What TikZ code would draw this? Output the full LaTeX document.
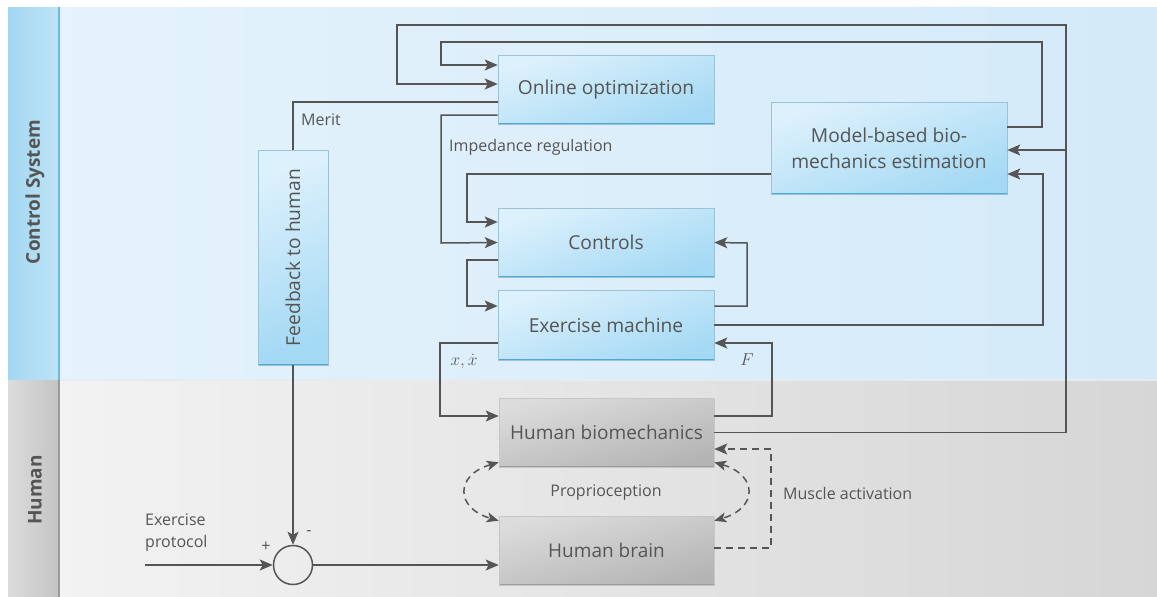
\documentclass[tikz,border=0pt]{standalone}
\usepackage{fontspec}
\setmainfont{Open Sans}
\usetikzlibrary{arrows.meta,shadows}

\definecolor{ink}{HTML}{555555}
\definecolor{laneblueA}{HTML}{E5F3FC}
\definecolor{laneblueB}{HTML}{D4EAF9}
\definecolor{lanegreyA}{HTML}{F4F4F4}
\definecolor{lanegreyB}{HTML}{D6D6D6}
\definecolor{headblueA}{HTML}{A3D7F1}
\definecolor{headblueB}{HTML}{BEE3F6}
\definecolor{headblueEdge}{HTML}{6FB9E0}
\definecolor{headgreyA}{HTML}{C4C4C4}
\definecolor{headgreyB}{HTML}{DCDCDC}
\definecolor{headgreyEdge}{HTML}{9A9A9A}
\definecolor{boxblueA}{HTML}{DDF1FC}
\definecolor{boxblueB}{HTML}{A4D9F4}
\definecolor{boxblueEdge}{HTML}{4EA7D6}
\definecolor{boxblueLine}{HTML}{9CC2D6}
\definecolor{boxgreyA}{HTML}{DCDCDC}
\definecolor{boxgreyB}{HTML}{B4B4B4}
\definecolor{boxgreyEdge}{HTML}{9C9C9C}
\definecolor{boxgreyLine}{HTML}{C6C6C6}

\tikzset{
  every node/.style={text=ink},
  bluebox/.style={draw=boxblueLine, line width=0.6pt,
    top color=boxblueA, bottom color=boxblueB, shading angle=20,
    align=center, font=\fontsize{19.2}{26}\selectfont,
    drop shadow={opacity=0.18, shadow xshift=1.2pt, shadow yshift=-1.2pt},
    path picture={\draw[boxblueEdge, line width=2.4pt]
      (path picture bounding box.south west) -- (path picture bounding box.south east);}},
  greybox/.style={draw=boxgreyLine, line width=0.6pt,
    top color=boxgreyA, bottom color=boxgreyB, shading angle=15,
    align=center, font=\fontsize{19}{26}\selectfont,
    drop shadow={opacity=0.18, shadow xshift=1.2pt, shadow yshift=-1.2pt},
    path picture={\draw[boxgreyEdge, line width=2.4pt]
      (path picture bounding box.south west) -- (path picture bounding box.south east);}},
  wire/.style={draw=ink, line width=1.5pt},
  arr/.style={wire, -{Stealth[length=13pt,width=11pt,inset=3pt]}},
  biarr/.style={wire, {Stealth[length=12pt,width=10pt,inset=3pt]}-{Stealth[length=12pt,width=10pt,inset=3pt]}},
  dash7/.style={dash pattern=on 7pt off 5pt},
  lbl/.style={font=\fontsize{16}{22}\selectfont, inner sep=0pt},
  lanehead/.style={font=\bfseries\fontsize{19}{22}\selectfont, rotate=90, inner sep=0pt}
}

\begin{document}
\begin{tikzpicture}[x=1pt,y=-1pt]
\useasboundingbox (0,0) rectangle (1157,597);
\fill[white] (0,0) rectangle (1157,597);

% swim lanes
\shade[left color=laneblueA, right color=laneblueB] (8,7) rectangle (1157,380);
\shade[left color=lanegreyA, right color=lanegreyB] (8,380) rectangle (1157,597);
\draw[line width=1.5pt, draw=laneblueB!80!black!30] (60,380) -- (1157,380);
\shade[left color=headblueA, right color=headblueB] (8,7) rectangle (58,380);
\draw[headblueEdge, line width=2pt] (59,7) -- (59,380);
\shade[left color=headgreyB, right color=headgreyA] (8,380) rectangle (58,597);
\draw[headgreyEdge, line width=2pt] (59,380) -- (59,597);
\node[lanehead] (lcs) at (35,192) {Control System};
\node[lanehead] (lhu) at (35,490) {Human};

% blocks
\node[bluebox, minimum width=216pt, minimum height=69pt] (OO) at (606,89.5) {Online optimization};
\node[bluebox, minimum width=236pt, minimum height=92pt] (MB) at (889,148) {Model-based bio-\\mechanics estimation};
\node[bluebox, minimum width=216pt, minimum height=69pt] (CT) at (606,242.5) {Controls};
\node[bluebox, minimum width=216pt, minimum height=70pt] (EM) at (606,325) {Exercise machine};
\node[bluebox, minimum width=215pt, minimum height=70pt, rotate=90] (FB) at (293,257.5) {Feedback to human};
\node[greybox, minimum width=215pt, minimum height=69pt] (HB) at (606.5,432.5) {Human biomechanics};
\node[greybox, minimum width=215pt, minimum height=69pt] (BR) at (606.5,550.5) {Human brain};
\node[draw=ink, line width=1.5pt, circle, minimum size=39pt, inner sep=0pt] (S) at (293,565) {};
\coordinate (EP) at (145,565);
\coordinate (J1) at (1066,150);

% control-system loops
\draw[arr] (HB.east) -| (1066,25) -| (397,84) -- ([yshift=5.5pt]OO.west);
\draw[arr] (J1) -- ([yshift=-2pt]MB.east);
\draw[arr] ([yshift=21pt]MB.east) -| (1042,42) -| (441,65) -- ([yshift=24.5pt]OO.west);
\draw[wire] ([yshift=-12.5pt]OO.west) -| (FB.east);
\draw[arr] ([yshift=-25.5pt]OO.west) -| (441,243) -- (CT.west);
\draw[arr] ([yshift=-26pt]MB.west) -| (467,222) -- ([yshift=20.5pt]CT.west);
\draw[arr] ([yshift=-17.5pt]CT.west) -| (467,306) -- ([yshift=19pt]EM.west);
\draw[arr] ([yshift=19pt]EM.east) -| (747,243) -- (CT.east);
\draw[arr] (EM.east) -| (1043,174) -- ([yshift=-26pt]MB.east);
\draw[arr] ([yshift=-18pt]EM.west) -| (440,416) -- ([yshift=16.5pt]HB.west);
\draw[arr] ([yshift=16.5pt]HB.east) -| (772,343) -- ([yshift=-18pt]EM.east);

% human side
\draw[arr, dash7] ([yshift=2.5pt]BR.east) -| (771,449) -- ([yshift=-16.5pt]HB.east);
\draw[biarr, dash7] ([yshift=5pt]HB.south west) .. controls (455,475) and (455,508) .. ([yshift=-5pt]BR.north west);
\draw[biarr, dash7] ([yshift=5pt]HB.south east) .. controls (758,475) and (758,508) .. ([yshift=-5pt]BR.north east);
\draw[arr] (FB.west) -- (S.north);
\draw[arr] (EP) -- (S.west);
\draw[arr] (S.east) -- (S.east -| BR.west);

% labels
\node[lbl, anchor=west] (tmerit) at (301,120) {Merit};
\node[lbl, anchor=west] (timp) at (449,147) {Impedance regulation};
\node[font=\fontsize{16}{18}\selectfont, inner sep=0pt] (txx) at (464,362) {$x,\dot{x}$};
\node[font=\fontsize{16}{18}\selectfont, inner sep=0pt] (tF) at (747,360) {$F$};
\node[lbl] (tprop) at (606,493) {Proprioception};
\node[lbl, anchor=west] (tmus) at (783,493) {Muscle activation};
\node[lbl, anchor=north west, align=left] (tep) at (145,514) {Exercise\\protocol};
\node[lbl] (tplus) at (266,547) {+};
\node[lbl] (tminus) at (309,533) {-};
\end{tikzpicture}
\end{document}
